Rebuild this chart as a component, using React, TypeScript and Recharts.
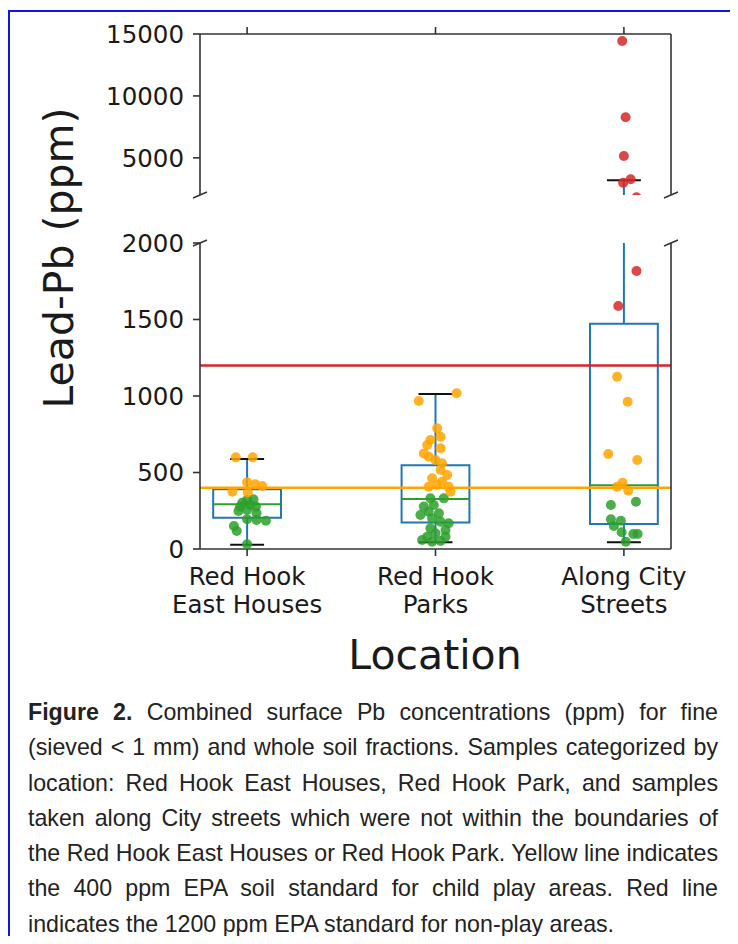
import React from "react";
import {
  ScatterChart,
  Scatter,
  XAxis,
  YAxis,
  ReferenceLine,
  ReferenceArea,
} from "recharts";

// locations, placed at x = 1, 2, 3
const categories = ["Red Hook\nEast Houses", "Red Hook\nParks", "Along City\nStreets"];
const categoryPos = [1, 2, 3];

// box plot stats per location (ppm)
const whiskerLow = [28, 44, 44];
const boxQ1 = [205, 174, 163];
const boxMedian = [292, 327, 416];
const boxQ3 = [390, 547, 1473];
const whiskerHigh = [588, 1013, 3200];

// EPA standards (ppm)
const playStandard = 400;
const nonPlayStandard = 1200;

// samples as [jitter, ppm]
const eastOrange = [
  [-0.06, 599], [0.03, 599], [0.0, 436], [0.043, 423], [0.08, 412], [-0.078, 375], [0.004, 370],
];
const eastGreen = [
  [0.034, 325], [0.0, 320], [-0.025, 303], [0.017, 288], [-0.037, 277], [0.047, 277], [-0.046, 248],
  [0.0, 255], [0.05, 233], [0.0, 194], [0.05, 190], [0.1, 185], [-0.07, 150], [-0.055, 118], [0.0, 31],
];
const parksOrange = [
  [0.112, 1018], [-0.089, 967], [0.009, 789], [0.027, 734], [-0.027, 712], [-0.044, 680], [0.027, 658],
  [-0.062, 625], [-0.036, 603], [0.0, 582], [0.035, 560], [0.027, 516], [0.062, 484], [-0.018, 462],
  [0.035, 440], [0.07, 407], [-0.036, 407], [0.009, 418], [0.08, 375],
];
const parksGreen = [
  [-0.027, 331], [0.044, 331], [-0.062, 277], [-0.009, 288], [-0.036, 244], [0.018, 233], [-0.08, 222],
  [-0.018, 200], [0.027, 178], [0.07, 168], [-0.027, 135], [0.053, 124], [0.0, 103], [-0.044, 80],
  [0.053, 80], [-0.071, 59], [0.027, 52], [-0.018, 48],
];
const streetsRed = [
  [-0.009, 14435], [0.009, 8273], [0.0, 5150], [-0.004, 2994], [0.036, 3267], [0.067, 1817], [-0.03, 1588],
];
const streetsOrange = [
  [-0.036, 1126], [0.02, 963], [-0.083, 621], [0.071, 582], [-0.007, 433], [-0.036, 407], [0.023, 381],
];
const streetsGreen = [
  [-0.069, 288], [0.064, 309], [-0.069, 194], [-0.016, 185], [-0.053, 150], [-0.012, 109], [0.05, 98],
  [0.073, 98], [0.01, 48],
];

const topTicks = [5000, 10000, 15000];
const bottomTicks = [0, 500, 1000, 1500, 2000];

const X_MIN = 0.75;
const X_MAX = 3.25;
const TOP_DOMAIN = [2000, 15000];
const BOTTOM_DOMAIN = [0, 2000];

const FONT = "'DejaVu Sans', sans-serif";
const INK = "#1a1a1a";
const SPINE = "#333";
const BOX = "#1f77b4";
const GREEN = "#2ca02c";
const ORANGE = "#ffa500";
const RED = "#d62728";
const BOX_HALF = 0.18;
const CAP_HALF = 0.09;

const toPoints = (pos: number, rows: number[][]) => rows.map(([j, v]) => ({ x: pos + j, y: v }));

const greenPoints = [...toPoints(1, eastGreen), ...toPoints(2, parksGreen), ...toPoints(3, streetsGreen)];
const orangePoints = [...toPoints(1, eastOrange), ...toPoints(2, parksOrange), ...toPoints(3, streetsOrange)];
const redPoints = toPoints(3, streetsRed);

const dot = (color: string) => (p: any) => (
  <circle cx={p.cx} cy={p.cy} r={5} fill={color} fillOpacity={0.85} />
);

function boxElements(prefix: string) {
  return categoryPos.flatMap((pos, i) => [
    <ReferenceLine key={`${prefix}wl${i}`} segment={[{ x: pos, y: whiskerLow[i] }, { x: pos, y: boxQ1[i] }]}
      stroke={BOX} strokeWidth={2} ifOverflow="hidden" />,
    <ReferenceLine key={`${prefix}wh${i}`} segment={[{ x: pos, y: boxQ3[i] }, { x: pos, y: whiskerHigh[i] }]}
      stroke={BOX} strokeWidth={2} ifOverflow="hidden" />,
    <ReferenceArea key={`${prefix}box${i}`} x1={pos - BOX_HALF} x2={pos + BOX_HALF} y1={boxQ1[i]} y2={boxQ3[i]}
      fill="none" fillOpacity={0} stroke={BOX} strokeWidth={2} ifOverflow="hidden" />,
    <ReferenceLine key={`${prefix}med${i}`} segment={[{ x: pos - BOX_HALF, y: boxMedian[i] }, { x: pos + BOX_HALF, y: boxMedian[i] }]}
      stroke={GREEN} strokeWidth={2} ifOverflow="hidden" />,
    <ReferenceLine key={`${prefix}cl${i}`} segment={[{ x: pos - CAP_HALF, y: whiskerLow[i] }, { x: pos + CAP_HALF, y: whiskerLow[i] }]}
      stroke="#111" strokeWidth={2} ifOverflow="hidden" />,
    <ReferenceLine key={`${prefix}ch${i}`} segment={[{ x: pos - CAP_HALF, y: whiskerHigh[i] }, { x: pos + CAP_HALF, y: whiskerHigh[i] }]}
      stroke="#111" strokeWidth={2} ifOverflow="hidden" />,
  ]);
}

// little diagonal marks where the axis is broken
function breakMarks(prefix: string, y: number, dy: number) {
  return [X_MIN, X_MAX].map((x) => (
    <ReferenceLine key={`${prefix}brk${x}`} segment={[{ x: x - 0.037, y: y - dy }, { x: x + 0.037, y: y + dy }]}
      stroke={SPINE} strokeWidth={1.6} ifOverflow="visible" />
  ));
}

function series() {
  return [
    <Scatter key="g" data={greenPoints} shape={dot(GREEN)} isAnimationActive={false} />,
    <Scatter key="o" data={orangePoints} shape={dot(ORANGE)} isAnimationActive={false} />,
    <Scatter key="r" data={redPoints} shape={dot(RED)} isAnimationActive={false} />,
  ];
}

const axisLine = { stroke: SPINE, strokeWidth: 1.6 };
const tickStyle = { fontSize: 24.5, fontFamily: FONT, fill: INK };

function CategoryTick({ x, y, payload }: any) {
  const lines = categories[payload.value - 1].split("\n");
  return (
    <text x={x} y={y} textAnchor="middle" fontSize={24.5} fontFamily={FONT} fill={INK}>
      {lines.map((l, i) => (
        <tspan key={i} x={x} dy={i === 0 ? 26.5 : 28}>{l}</tspan>
      ))}
    </text>
  );
}

function TopPanel() {
  return (
    <ScatterChart width={730} height={197} margin={{ top: 16, right: 67, bottom: 10, left: 92 }}>
      <XAxis type="number" dataKey="x" orientation="top" domain={[X_MIN, X_MAX]} ticks={categoryPos}
        allowDataOverflow tick={() => <g />} tickSize={7} height={10} axisLine={axisLine} tickLine={axisLine} interval={0} />
      <YAxis type="number" dataKey="y" domain={TOP_DOMAIN} ticks={topTicks} allowDataOverflow width={100}
        tickSize={7} tickMargin={9} axisLine={axisLine} tickLine={axisLine} tick={tickStyle} interval={0} />
      {boxElements("t")}
      {series()}
      <ReferenceLine x={X_MAX} stroke={SPINE} strokeWidth={1.6} ifOverflow="visible" />
      {breakMarks("t", 2000, 240)}
    </ScatterChart>
  );
}

function BottomPanel() {
  return (
    <ScatterChart width={730} height={416} margin={{ top: 30, right: 67, bottom: 0, left: 92 }}>
      <XAxis type="number" dataKey="x" domain={[X_MIN, X_MAX]} ticks={categoryPos} allowDataOverflow
        tick={<CategoryTick />} tickSize={7} tickMargin={2} height={80} axisLine={axisLine} tickLine={axisLine} interval={0} />
      <YAxis type="number" dataKey="y" domain={BOTTOM_DOMAIN} ticks={bottomTicks} allowDataOverflow width={100}
        tickSize={7} tickMargin={9} axisLine={axisLine} tickLine={axisLine} tick={tickStyle} interval={0} />
      {boxElements("b")}
      <ReferenceLine y={nonPlayStandard} stroke={RED} strokeWidth={2.5} ifOverflow="hidden" />
      <ReferenceLine y={playStandard} stroke={ORANGE} strokeWidth={2.5} ifOverflow="hidden" />
      {series()}
      <ReferenceLine x={X_MAX} stroke={SPINE} strokeWidth={1.6} ifOverflow="visible" />
      {breakMarks("b", 2000, 19)}
    </ScatterChart>
  );
}

const captionLines = [
  "Combined surface Pb concentrations (ppm) for fine",
  "(sieved < 1 mm) and whole soil fractions. Samples categorized by",
  "location: Red Hook East Houses, Red Hook Park, and samples",
  "taken along City streets which were not within the boundaries of",
  "the Red Hook East Houses or Red Hook Park. Yellow line indicates",
  "the 400 ppm EPA soil standard for child play areas. Red line",
  "indicates the 1200 ppm EPA standard for non-play areas.",
];

export default function App() {
  return (
    <div style={{ position: "relative", width: 730, height: 928 }}>
      <div style={{ position: "absolute", left: 0, top: 2, width: 730, height: 2, background: "#1515e8" }} />
      <div style={{ position: "absolute", left: 0, top: 2, width: 2, height: 926, background: "#1515e8" }} />
      <div style={{ position: "absolute", left: 0, top: 0 }}>
        <TopPanel />
      </div>
      <div style={{ position: "absolute", left: 0, top: 205 }}>
        <BottomPanel />
      </div>
      <svg width={730} height={700} style={{ position: "absolute", left: 0, top: 0, pointerEvents: "none" }}>
        <text transform="translate(65,250) rotate(-90)" textAnchor="middle" fontSize={41} fontFamily={FONT} fill={INK}>
          Lead-Pb (ppm)
        </text>
        <text x={427} y={661} textAnchor="middle" fontSize={41} fontFamily={FONT} fill={INK}>
          Location
        </text>
      </svg>
      <div
        style={{
          position: "absolute",
          left: 20,
          top: 687,
          width: 690,
          fontFamily: "'Liberation Sans', Arial, sans-serif",
          fontSize: 23.2,
          lineHeight: "35.3px",
          color: "#222",
        }}
      >
        {captionLines.map((line, i) => (
          <div key={i} style={{ textAlign: i < captionLines.length - 1 ? "justify" : "left", textAlignLast: i < captionLines.length - 1 ? "justify" : "left" }}>
            {i === 0 && <b>Figure 2. </b>}
            {line}
          </div>
        ))}
      </div>
    </div>
  );
}
